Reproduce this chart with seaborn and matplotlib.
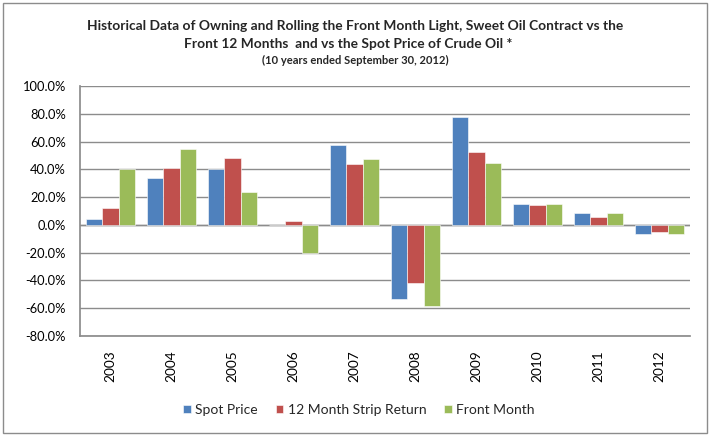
import matplotlib
matplotlib.use("Agg")
import matplotlib.pyplot as plt
import seaborn as sns
import pandas as pd
from matplotlib.ticker import FuncFormatter
from matplotlib.patches import Rectangle

years = ["2003", "2004", "2005", "2006", "2007", "2008", "2009", "2010", "2011", "2012"]
spot_price = [4.1, 33.7, 40.4, 0.0, 57.3, -53.6, 77.8, 15.2, 8.2, -6.5]
strip_return = [12.0, 41.0, 48.1, 2.7, 44.0, -42.0, 52.5, 14.0, 5.8, -5.3]
front_month = [40.0, 54.7, 23.6, -20.0, 47.4, -58.2, 44.5, 15.2, 8.2, -6.5]
series_names = ["Spot Price", "12 Month Strip Return", "Front Month"]
colors = ["#4F81BD", "#C0504D", "#9BBB59"]
yticks = [-80, -60, -40, -20, 0, 20, 40, 60, 80, 100]

rows = []
for name, vals in zip(series_names, [spot_price, strip_return, front_month]):
    for y, v in zip(years, vals):
        rows.append({"Year": y, "Series": name, "Value": v})
df = pd.DataFrame(rows)

sns.set_theme(style="white")
plt.rcParams['font.family'] = ['Lato', 'DejaVu Sans']

fig = plt.figure(figsize=(7.1, 4.36), dpi=100)
ax = fig.add_axes([80/710, 1-336/436, 610/710, 250/436])

sns.barplot(data=df, x="Year", y="Value", hue="Series", palette=colors,
            width=0.79, ax=ax, saturation=1, edgecolor="white", linewidth=0.4,
            legend=True)

ax.set_ylim(-80, 100)
ax.set_xlim(-0.5, 9.5)
ax.set_yticks(yticks)
ax.yaxis.set_major_formatter(FuncFormatter(lambda v, p: f"{v:.1f}%"))
ax.set_axisbelow(True)
ax.grid(axis="y", color="#8C8C8C", linewidth=1.0)
ax.grid(axis="x", visible=False)
for s in ["top", "right"]:
    ax.spines[s].set_visible(False)
ax.spines["left"].set_color("#8C8C8C")
ax.spines["bottom"].set_color("#8C8C8C")
ax.axhline(0, color="#8C8C8C", linewidth=1.0, zorder=0.5)
ax.set_xlabel("")
ax.set_ylabel("")
ax.tick_params(axis="y", labelsize=9.3, pad=10, length=0, colors="black")
ax.tick_params(axis="x", labelsize=9.8, rotation=90, pad=10, length=0, colors="black")

h, l = ax.get_legend_handles_labels()
ax.get_legend().remove()
fig.legend(h, l, loc="center", bbox_to_anchor=(359/710, 1-410/436), ncol=3,
           frameon=False, fontsize=10, handlelength=0.55, handleheight=0.55,
           handletextpad=0.3, columnspacing=1.3)

fig.text(355/710, 1-26/436, "Historical Data of Owning and Rolling the Front Month Light, Sweet Oil Contract vs the",
         ha="center", va="center", fontsize=9.9, fontweight="bold")
fig.text(348/710, 1-44/436, "Front 12 Months  and vs the Spot Price of Crude Oil *",
         ha="center", va="center", fontsize=9.9, fontweight="bold")
fig.text(355/710, 1-60.5/436, "(10 years ended September 30, 2012)",
         ha="center", va="center", fontsize=8.0, fontweight="bold")

fig.patches.append(Rectangle((3/710, 3/436), 704/710, 430/436, transform=fig.transFigure,
                             fill=False, edgecolor="#8C8C8C", linewidth=1.0))

fig.savefig("out.png", dpi=100)
